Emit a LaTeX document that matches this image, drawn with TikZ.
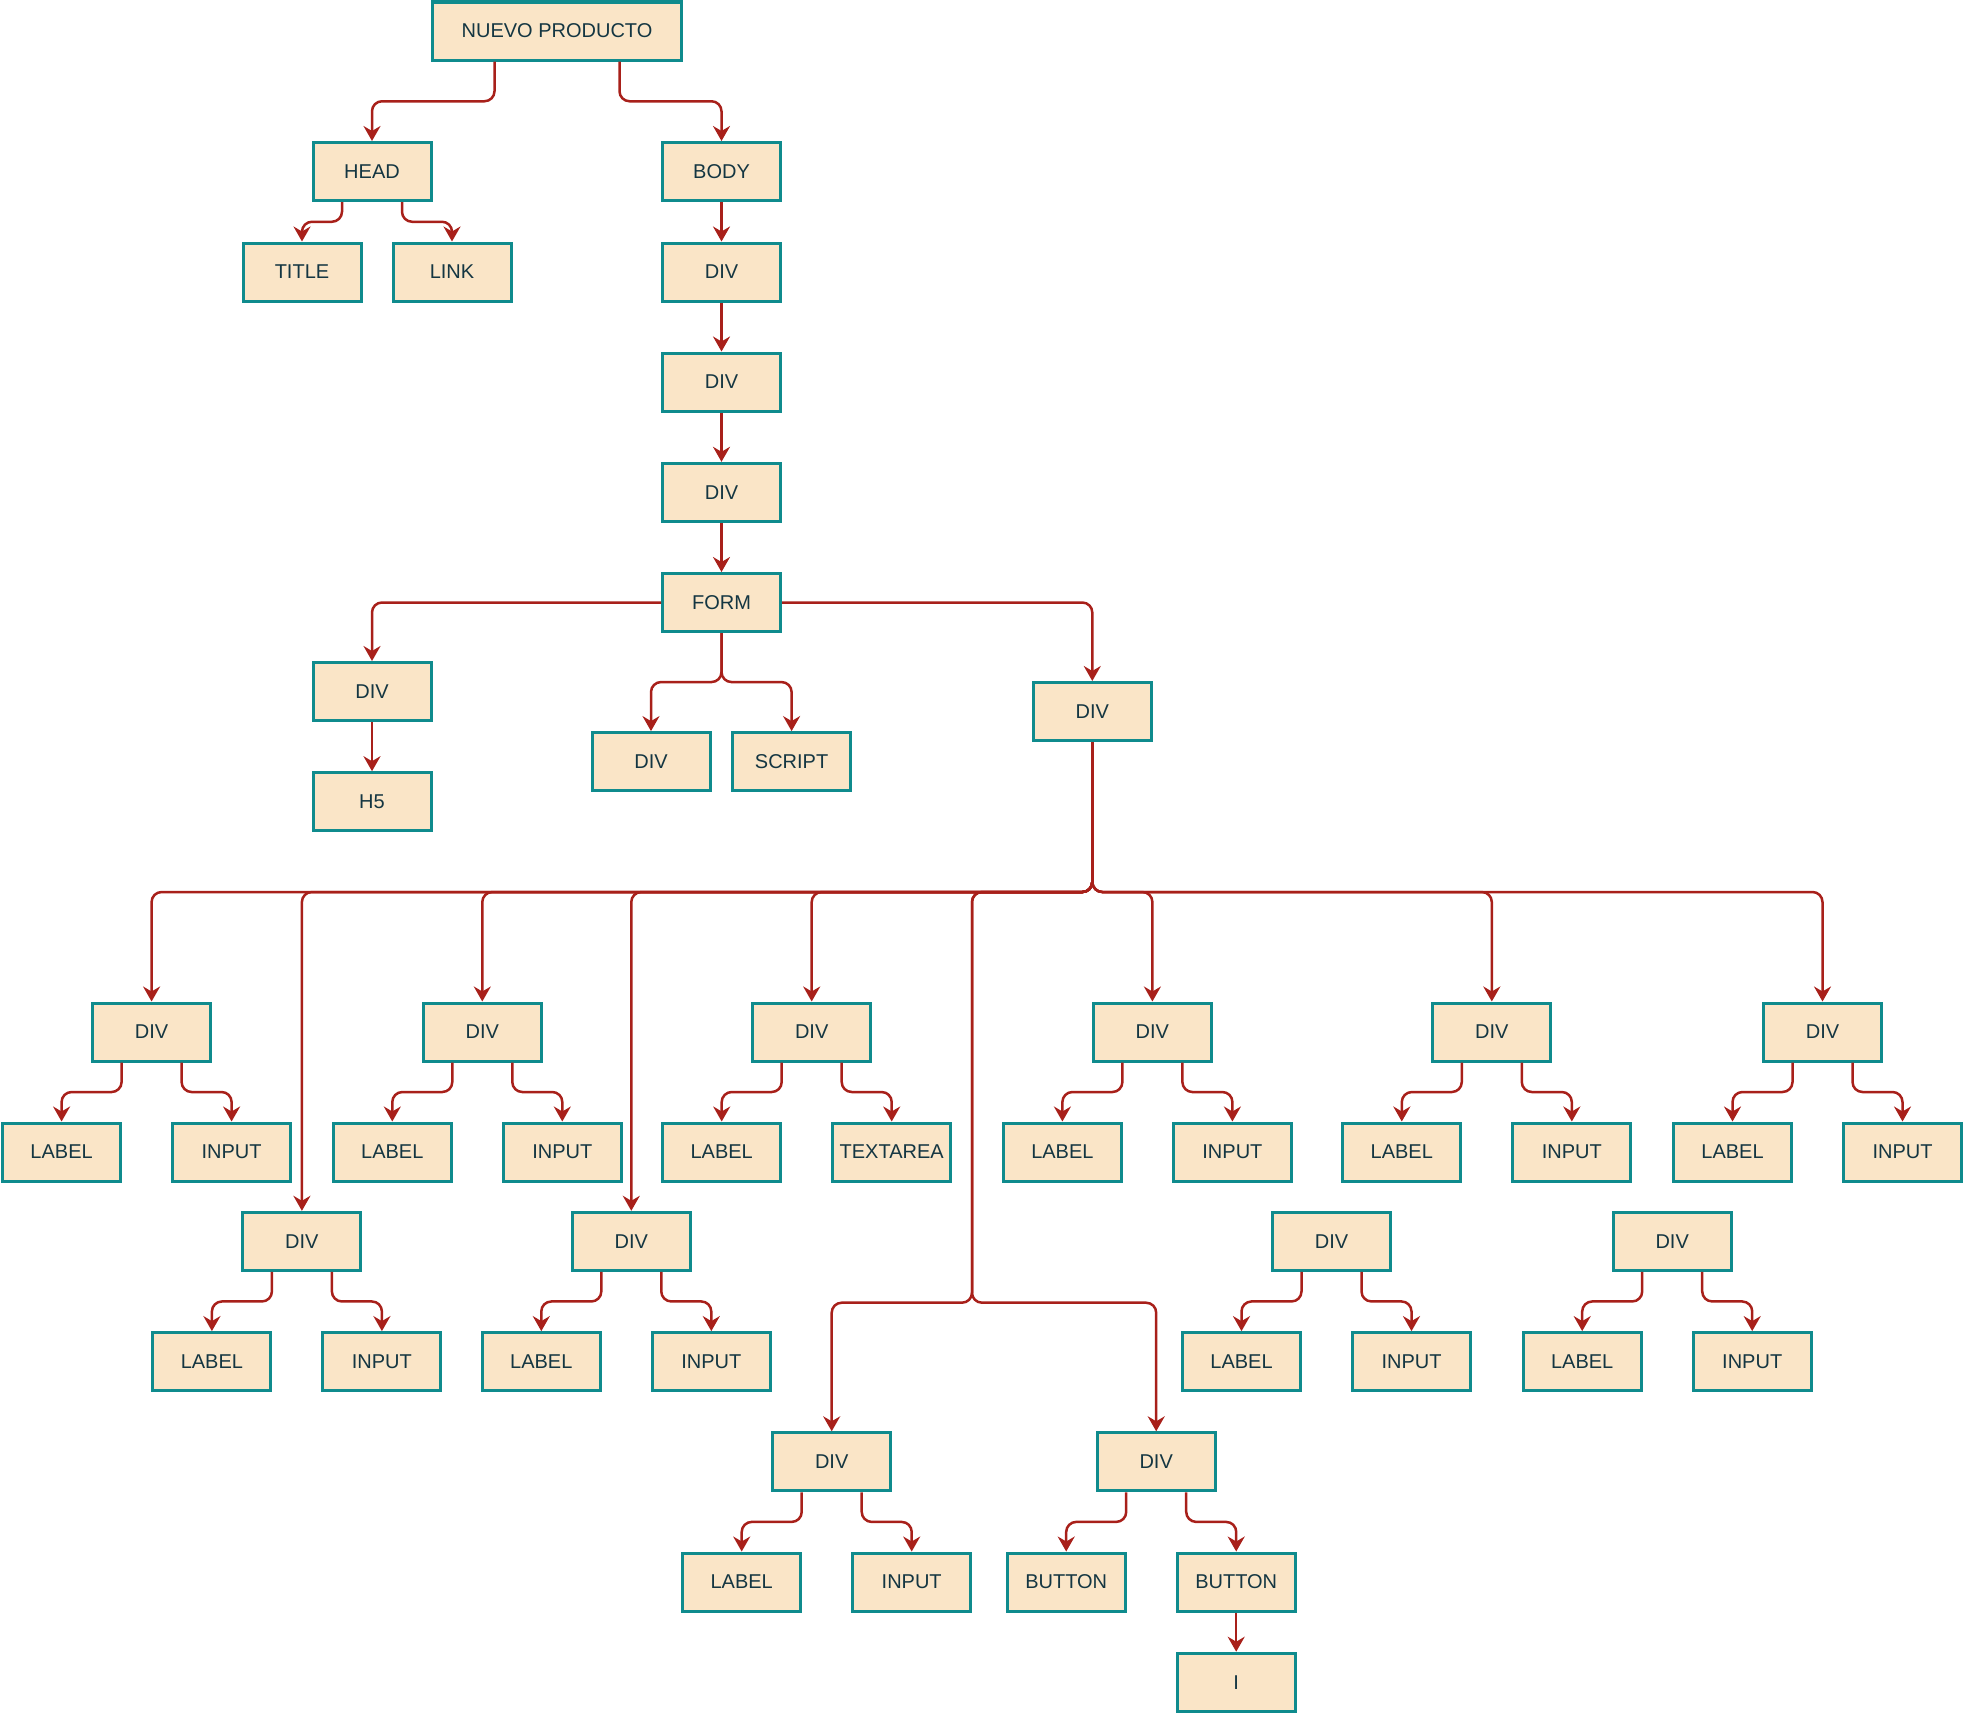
\documentclass[tikz,border=0pt]{standalone}
\usepackage{fontspec}
\setmainfont{Liberation Sans}
\usetikzlibrary{arrows.meta,calc}

\definecolor{boxfill}{HTML}{FAE5C7}
\definecolor{boxline}{HTML}{0F8B8D}
\definecolor{boxtext}{HTML}{143642}
\definecolor{linkline}{HTML}{A8201A}

\tikzset{
  tag/.style={draw=boxline, fill=boxfill, line width=1.5pt,
    minimum width=59pt, minimum height=29pt, inner sep=1pt,
    text=boxtext, font=\fontsize{10pt}{12pt}\selectfont},
  wide/.style={tag, minimum width=124.5pt},
  edge/.style={draw=linkline, line width=1.25pt, rounded corners=5pt,
    -{Stealth[length=7.5pt,width=8.5pt,inset=2.5pt]}}
}

% elbow connector: leaves #1 at horizontal offset #2, turns halfway, ends on top of #3
\newcommand{\elbow}[3]{%
  \path ($(#1.south)!.5!(#3.north)$) coordinate (mid);
  \draw[edge] ($(#1.south)+(#2,0)$) coordinate (src) -- (src |- mid) -| (#3.north);}

\begin{document}
\begin{tikzpicture}[x=0.5pt,y=-0.5pt]
\useasboundingbox (0,0) rectangle (1964,1713);

% document root and head
\node[wide] (root) at (557,31) {NUEVO PRODUCTO};
\node[tag] (head) at (372,171.5) {HEAD};
\node[tag] (body) at (721.5,171.5) {BODY};
\node[tag] (title) at (302,272) {TITLE};
\node[tag] (link) at (452,272) {LINK};

% body chain down to the form
\node[tag] (d1) at (721.5,272) {DIV};
\node[tag] (d2) at (721.5,382) {DIV};
\node[tag] (d3) at (721.5,492.3) {DIV};
\node[tag] (form) at (721.5,602.5) {FORM};
\node[tag] (divl) at (372,691.5) {DIV};
\node[tag] (h5) at (372,801.7) {H5};
\node[tag] (divm) at (651,761.6) {DIV};
\node[tag] (script) at (791.6,761.6) {SCRIPT};
\node[tag] (divr) at (1092.3,711.5) {DIV};

% first row of field groups
\node[tag] (ra) at (151.6,1032) {DIV};
\node[tag] (rb) at (482.3,1032) {DIV};
\node[tag] (rc) at (811.7,1032) {DIV};
\node[tag] (rd) at (1152.4,1032) {DIV};
\node[tag] (re) at (1491.8,1032) {DIV};
\node[tag] (rf) at (1822.5,1032) {DIV};
\node[tag] (ral) at (61.6,1152) {LABEL};
\node[tag] (rai) at (231.6,1152) {INPUT};
\node[tag] (rbl) at (392.3,1152) {LABEL};
\node[tag] (rbi) at (562.3,1152) {INPUT};
\node[tag] (rcl) at (721.7,1152) {LABEL};
\node[tag] (rct) at (891.7,1152) {TEXTAREA};
\node[tag] (rdl) at (1062.4,1152) {LABEL};
\node[tag] (rdi) at (1232.4,1152) {INPUT};
\node[tag] (rel) at (1401.8,1152) {LABEL};
\node[tag] (rei) at (1571.8,1152) {INPUT};
\node[tag] (rfl) at (1732.5,1152) {LABEL};
\node[tag] (rfi) at (1902.5,1152) {INPUT};

% second row of field groups
\node[tag] (sa) at (301.9,1241.3) {DIV};
\node[tag] (sb) at (631.3,1241.3) {DIV};
\node[tag] (sc) at (1331.5,1241.3) {DIV};
\node[tag] (sd) at (1672.2,1241.3) {DIV};
\node[tag] (sal) at (211.9,1361.6) {LABEL};
\node[tag] (sai) at (381.9,1361.6) {INPUT};
\node[tag] (sbl) at (541.3,1361.6) {LABEL};
\node[tag] (sbi) at (711.3,1361.6) {INPUT};
\node[tag] (scl) at (1241.5,1361.6) {LABEL};
\node[tag] (sci) at (1411.5,1361.6) {INPUT};
\node[tag] (sdl) at (1582.2,1361.6) {LABEL};
\node[tag] (sdi) at (1752.2,1361.6) {INPUT};

% third row: last field and the buttons
\node[tag] (ta) at (831.7,1461.8) {DIV};
\node[tag] (tb) at (1156.2,1461.8) {DIV};
\node[tag] (tal) at (741.7,1582) {LABEL};
\node[tag] (tai) at (911.7,1582) {INPUT};
\node[tag] (tbb) at (1066.2,1582) {BUTTON};
\node[tag] (tbc) at (1236.2,1582) {BUTTON};
\node[tag] (icon) at (1236.2,1682.2) {I};

% routing points of the form's field bus
\coordinate (bus) at (0,892);
\coordinate (j1) at (972,892);
\coordinate (j2) at (972,1302.7);

% connectors
\elbow{root}{-62.5}{head}
\elbow{root}{62.5}{body}
\elbow{head}{-30}{title}
\elbow{head}{30}{link}
\draw[edge] (body) -- (d1);
\draw[edge] (d1) -- (d2);
\draw[edge] (d2) -- (d3);
\draw[edge] (d3) -- (form);
\draw[edge] (form.west) -| (divl.north);
\draw[edge] (form.east) -| (divr.north);
\draw[edge] (divl) -- (h5);
\elbow{form}{0}{divm}
\elbow{form}{0}{script}

\foreach \t in {ra,sa,rb,sb,rc,rd,re,rf}
  \draw[edge] (divr.south) -- (divr.south |- bus) -| (\t.north);
\draw[edge] (divr.south) -- (divr.south |- bus) -- (j1) -- (j2) -| (ta.north);
\draw[edge] (divr.south) -- (divr.south |- bus) -- (j1) -- (j2) -| (tb.north);

\elbow{ra}{-30}{ral} \elbow{ra}{30}{rai}
\elbow{rb}{-30}{rbl} \elbow{rb}{30}{rbi}
\elbow{rc}{-30}{rcl} \elbow{rc}{30}{rct}
\elbow{rd}{-30}{rdl} \elbow{rd}{30}{rdi}
\elbow{re}{-30}{rel} \elbow{re}{30}{rei}
\elbow{rf}{-30}{rfl} \elbow{rf}{30}{rfi}
\elbow{sa}{-30}{sal} \elbow{sa}{30}{sai}
\elbow{sb}{-30}{sbl} \elbow{sb}{30}{sbi}
\elbow{sc}{-30}{scl} \elbow{sc}{30}{sci}
\elbow{sd}{-30}{sdl} \elbow{sd}{30}{sdi}
\elbow{ta}{-30}{tal} \elbow{ta}{30}{tai}
\elbow{tb}{-30}{tbb} \elbow{tb}{30}{tbc}
\draw[edge] (tbc) -- (icon);
\end{tikzpicture}
\end{document}
